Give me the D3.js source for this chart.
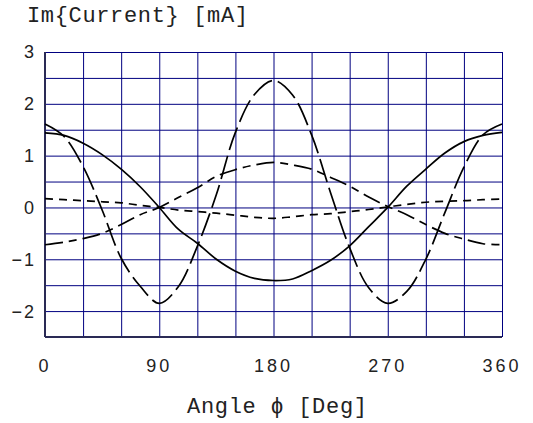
<!DOCTYPE html>
<html>
<head>
<meta charset="utf-8">
<script src="https://cdnjs.cloudflare.com/ajax/libs/d3/7.8.5/d3.min.js"></script>
<style>
  body { margin: 0; background: #fff; }
  .mono { font-family: "Liberation Mono", "Courier New", monospace; font-size: 22px; fill: #222; }
  .tick-label { font-family: "Liberation Sans", Arial, sans-serif; font-size: 18px; fill: #222; }
  .grid line { stroke: #000080; stroke-width: 1; }
  .curve { fill: none; stroke: #000; stroke-width: 1.7; }
</style>
</head>
<body>
<div id="chart"></div>
<script>
// DATA (every 15 degrees)
var angles = [0, 15, 30, 45, 60, 75, 90, 105, 120, 135, 150, 165, 180,
              195, 210, 225, 240, 255, 270, 285, 300, 315, 330, 345, 360];
var solidCurve = [1.44, 1.39, 1.24, 1.02, 0.74, 0.40, 0.0, -0.42, -0.69, -1.00, -1.23, -1.37, -1.41,
                  -1.38, -1.22, -1.02, -0.74, -0.37, 0.0, 0.41, 0.74, 1.05, 1.27, 1.39, 1.45];
var longDash = [1.61, 1.37, 0.79, -0.05, -0.98, -1.52, -1.85, -1.53, -0.75, 0.25, 1.45, 2.18, 2.45,
                2.17, 1.40, 0.28, -0.78, -1.55, -1.85, -1.62, -1.0, -0.1, 0.78, 1.40, 1.61];
var dashDot = [-0.72, -0.67, -0.60, -0.50, -0.33, -0.14, 0.0, 0.19, 0.38, 0.60, 0.73, 0.82, 0.87,
               0.82, 0.74, 0.58, 0.41, 0.20, 0.02, -0.14, -0.33, -0.50, -0.61, -0.70, -0.72];
var shortDash = [0.17, 0.15, 0.13, 0.11, 0.09, 0.04, 0.0, -0.05, -0.08, -0.11, -0.15, -0.19, -0.21,
                 -0.18, -0.14, -0.12, -0.08, -0.04, 0.01, 0.06, 0.10, 0.12, 0.13, 0.15, 0.16];
var xTicks = [0, 90, 180, 270, 360];
var yTicks = [-2, -1, 0, 1, 2, 3];

var SERIES = [
  { values: longDash, dash: "24,6" },
  { values: dashDot, dash: "18,6,8,6" },
  { values: shortDash, dash: "8,6" },
  { values: solidCurve, dash: null }
];

var margin = { top: 52, right: 31, bottom: 86, left: 45 };
var width = 533 - margin.left - margin.right;
var height = 423 - margin.top - margin.bottom;

var svg = d3.select("#chart").append("svg")
    .attr("width", 533)
    .attr("height", 423);

var g = svg.append("g")
    .attr("transform", "translate(" + margin.left + "," + margin.top + ")");

// SCALES
var x = d3.scaleLinear().domain([0, 360]).range([0, width]);
var y = d3.scaleLinear().domain([-2.5, 3]).range([height, 0]);

// GRID
g.append("g")
    .attr("class", "grid")
    .call(d3.axisBottom(x).tickValues(d3.range(0, 361, 30)).tickSize(height).tickFormat(""))
    .call(function(s) { s.select(".domain").remove(); });

g.append("g")
    .attr("class", "grid")
    .call(d3.axisLeft(y).tickValues(d3.range(-2.5, 3.01, 0.5)).tickSize(-width).tickFormat(""))
    .call(function(s) { s.select(".domain").remove(); });

// frame: left and bottom darker
g.append("line").attr("x1", 0).attr("x2", 0).attr("y1", 0).attr("y2", height)
    .attr("stroke", "#2a2a55").attr("stroke-width", 2);
g.append("line").attr("x1", 0).attr("x2", width).attr("y1", height).attr("y2", height)
    .attr("stroke", "#2a2a55").attr("stroke-width", 2);

// CURVES
var line = d3.line()
    .x(function(d, i) { return x(angles[i]); })
    .y(function(d) { return y(d); })
    .curve(d3.curveCatmullRom.alpha(0.5));

g.selectAll(".curve")
    .data(SERIES)
    .enter().append("path")
    .attr("class", "curve")
    .attr("d", function(d) { return line(d.values); })
    .attr("stroke-dasharray", function(d) { return d.dash; });

// TICK LABELS
g.selectAll(".ylab")
    .data(yTicks)
    .enter().append("text")
    .attr("class", "tick-label")
    .attr("x", -9)
    .attr("y", function(d) { return y(d); })
    .attr("dy", "0.36em")
    .attr("text-anchor", "end")
    .style("letter-spacing", "2px")
    .text(function(d) { return d < 0 ? "\u2212" + Math.abs(d) : d; });

g.selectAll(".xlab")
    .data(xTicks)
    .enter().append("text")
    .attr("class", "tick-label")
    .attr("x", function(d) { return x(d); })
    .attr("y", height + 35)
    .attr("text-anchor", "middle")
    .style("letter-spacing", "3px")
    .text(function(d) { return d; });

// TITLES
svg.append("text")
    .attr("class", "mono")
    .attr("x", 27)
    .attr("y", 22)
    .attr("textLength", 221)
    .attr("lengthAdjust", "spacing")
    .text("Im{Current} [mA]");

svg.append("text")
    .attr("class", "mono")
    .attr("x", 187)
    .attr("y", 413)
    .attr("textLength", 180)
    .attr("lengthAdjust", "spacing")
    .text("Angle \u03d5 [Deg]");
</script>
</body>
</html>
